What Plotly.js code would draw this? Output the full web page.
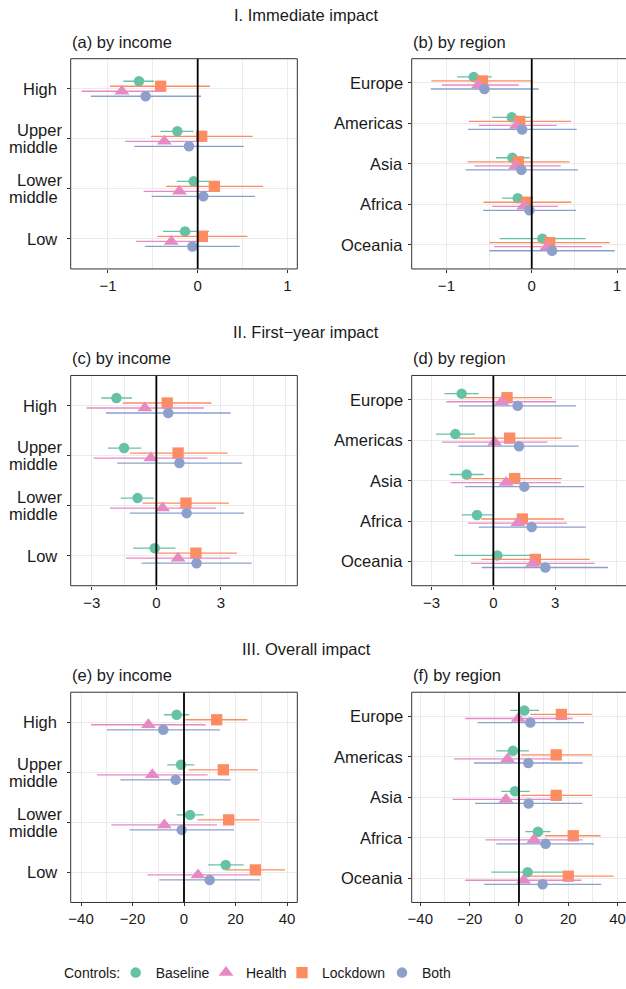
<!DOCTYPE html>
<html><head><meta charset="utf-8">
<script src="https://cdn.plot.ly/plotly-3.0.1.min.js"></script>
<style>html,body{margin:0;padding:0;background:#fff}#chart{width:626px;height:989px}</style>
</head><body><div id="chart"></div>
<script>
// ---------------- DATA ----------------
const seriesNames = ["Baseline", "Health", "Lockdown", "Both"];
const incomeCats = ["High", "Upper middle", "Lower middle", "Low"];
const regionCats = ["Europe", "Americas", "Asia", "Africa", "Oceania"];
const sectionTitles = ["I. Immediate impact", "II. First\u2212year impact", "III. Overall impact"];
const panelLabels = ["(a) by income", "(b) by region", "(c) by income", "(d) by region", "(e) by income", "(f) by region"];
const legendTitle = "Controls:";

// (a) Immediate impact by income
const a_Baseline_est = [-0.654, -0.227, -0.045, -0.141];
const a_Baseline_lo  = [-0.829, -0.416, -0.232, -0.387];
const a_Baseline_hi  = [-0.487, -0.047, 0.128, 0.126];
const a_Health_est   = [-0.844, -0.372, -0.204, -0.294];
const a_Health_lo    = [-1.294, -0.807, -0.602, -0.686];
const a_Health_hi    = [-0.398, 0.02, 0.13, 0.02];
const a_Lockdown_est = [-0.413, 0.045, 0.186, 0.052];
const a_Lockdown_lo  = [-0.978, -0.52, -0.353, -0.45];
const a_Lockdown_hi  = [0.138, 0.613, 0.729, 0.554];
const a_Both_est     = [-0.58, -0.097, 0.063, -0.059];
const a_Both_lo      = [-1.19, -0.706, -0.513, -0.587];
const a_Both_hi      = [0.037, 0.513, 0.639, 0.468];

// (b) Immediate impact by region
const b_Baseline_est = [-0.68, -0.234, -0.227, -0.164, 0.125];
const b_Baseline_lo  = [-0.875, -0.461, -0.418, -0.348, -0.375];
const b_Baseline_hi  = [-0.469, -0.016, -0.027, 0.016, 0.633];
const b_Health_est   = [-0.625, -0.18, -0.188, -0.094, 0.18];
const b_Health_lo    = [-1.055, -0.621, -0.672, -0.465, -0.438];
const b_Health_hi    = [-0.152, 0.293, 0.34, 0.309, 0.824];
const b_Lockdown_est = [-0.578, -0.141, -0.156, -0.059, 0.211];
const b_Lockdown_lo  = [-1.176, -0.738, -0.754, -0.566, -0.496];
const b_Lockdown_hi  = [0.016, 0.461, 0.445, 0.465, 0.914];
const b_Both_est     = [-0.555, -0.113, -0.121, -0.027, 0.238];
const b_Both_lo      = [-1.184, -0.746, -0.777, -0.57, -0.496];
const b_Both_hi      = [0.082, 0.527, 0.543, 0.52, 0.973];

// (c) First-year impact by income
const c_Baseline_est = [-1.853, -1.5, -0.873, -0.077];
const c_Baseline_lo  = [-2.557, -2.251, -1.654, -1.072];
const c_Baseline_hi  = [-1.133, -0.704, -0.123, 0.888];
const c_Health_est   = [-0.536, -0.26, 0.291, 1.01];
const c_Health_lo    = [-3.247, -2.91, -2.159, -1.409];
const c_Health_hi    = [2.205, 2.374, 2.772, 3.43];
const c_Lockdown_est = [0.505, 1.01, 1.378, 1.838];
const c_Lockdown_lo  = [-1.562, -1.225, -0.643, -0.05];
const c_Lockdown_hi  = [2.557, 3.308, 3.369, 3.737];
const c_Both_est     = [0.551, 1.072, 1.409, 1.868];
const c_Both_lo      = [-2.343, -1.822, -1.24, -0.689];
const c_Both_hi      = [3.446, 3.98, 4.073, 4.426];

// (d) First-year impact by region
const d_Baseline_est = [-1.54, -1.848, -1.297, -0.794, 0.194];
const d_Baseline_lo  = [-2.382, -2.788, -2.123, -1.54, -1.88];
const d_Baseline_hi  = [-0.713, -0.891, -0.47, -0.049, 2.253];
const d_Health_est   = [0.405, 0.065, 0.616, 1.183, 1.912];
const d_Health_lo    = [-2.285, -2.496, -2.075, -1.232, -1.086];
const d_Health_hi    = [3.047, 2.626, 3.29, 3.582, 4.927];
const d_Lockdown_est = [0.665, 0.794, 1.037, 1.41, 2.042];
const d_Lockdown_lo  = [-1.4, -1.7, -1.3, -0.58, -0.583];
const d_Lockdown_hi  = [2.853, 3.323, 3.323, 3.436, 4.684];
const d_Both_est     = [1.183, 1.248, 1.507, 1.864, 2.528];
const d_Both_lo      = [-1.669, -1.702, -1.378, -0.713, -0.567];
const d_Both_hi      = [4.019, 4.149, 4.425, 4.489, 5.575];

// (e) Overall impact by income
const e_Baseline_est = [-2.85, -1.17, 2.33, 16.2];
const e_Baseline_lo  = [-7.77, -6.47, -2.85, 9.45];
const e_Baseline_hi  = [2.07, 4.01, 7.64, 23.2];
const e_Health_est   = [-13.85, -12.3, -7.64, 5.44];
const e_Health_lo    = [-36.1, -33.8, -28.2, -14.2];
const e_Health_hi    = [8.41, 9.19, 12.8, 25.4];
const e_Lockdown_est = [12.69, 15.28, 17.35, 27.7];
const e_Lockdown_lo  = [0.52, 1.81, 5.31, 16.3];
const e_Lockdown_hi  = [24.6, 28.7, 29.3, 39.2];
const e_Both_est     = [-8.03, -3.24, -0.91, 9.97];
const e_Both_lo      = [-29.9, -24.7, -21.2, -9.58];
const e_Both_hi      = [14.0, 18.1, 19.4, 29.5];

// (f) Overall impact by region
const f_Baseline_est = [2.16, -2.43, -1.62, 7.7, 3.51];
const f_Baseline_lo  = [-3.51, -9.19, -7.16, 2.57, -11.2];
const f_Baseline_hi  = [8.11, 4.05, 4.32, 12.8, 17.8];
const f_Health_est   = [-0.27, -4.59, -5.27, 6.08, 1.89];
const f_Health_lo    = [-21.8, -26.4, -26.9, -13.6, -21.8];
const f_Health_hi    = [21.8, 13.2, 13.2, 25.8, 25.3];
const f_Lockdown_est = [17.2, 15.1, 15.1, 22.0, 20.0];
const f_Lockdown_lo  = [4.59, 0.8, 0.68, 10.5, 4.3];
const f_Lockdown_hi  = [29.5, 29.6, 29.7, 33.1, 38.4];
const f_Both_est     = [4.59, 3.78, 3.92, 10.8, 9.59];
const f_Both_lo      = [-16.8, -18.2, -17.8, -9.19, -14.1];
const f_Both_hi      = [26.4, 25.8, 25.7, 30.4, 33.4];

// x-axis ticks per row
const row1Ticks = [-1, 0, 1];
const row1Minor = [-0.5, 0.5];
const row2Ticks = [-3, 0, 3];
const row2Minor = [-1.5, 1.5, 4.5, 6];
const row3Ticks = [-40, -20, 0, 20, 40];
const row3Minor = [-30, -10, 10, 30];

// ---------------- STYLE ----------------
const W = 626, H = 989;
const FONT = '"Liberation Sans", Arial, Helvetica, sans-serif';
const TXT = '#1a1a1a';
const colors = {Baseline: '#66c2a5', Health: '#e78ac3', Lockdown: '#fc8d62', Both: '#8da0cb'};
const symbols = {Baseline: 'circle', Health: 'triangle-up', Lockdown: 'square', Both: 'circle'};
const msize = {Baseline: 10.5, Health: 13, Lockdown: 11.3, Both: 10.5};
const legW = {Baseline: 45.3, Health: 31, Lockdown: 55, Both: 29};
const dodge = {Baseline: -0.15, Lockdown: -0.05, Health: 0.05, Both: 0.15};
const drawOrder = ["Baseline", "Lockdown", "Health", "Both"];

const colPx = [[70.7, 297.3], [411.7, 626]];
const rowPx = [[59.3, 271.7], [379.3, 591.7], [699.3, 911.7]];
const titleY = [15, 335, 656];
const labelY = [42, 362, 682];
const legendY = 983;
const LINE_H = 16.8;

const panels = [
  {key: 'a', cats: incomeCats, pad: true,  range: [-1.415, 1.11], ticks: row1Ticks, minor: row1Minor, row: 0, col: 0},
  {key: 'b', cats: regionCats, pad: false, range: [-1.407, 1.105], ticks: row1Ticks, minor: row1Minor, row: 0, col: 1},
  {key: 'c', cats: incomeCats, pad: true,  range: [-3.98, 6.55], ticks: row2Ticks, minor: row2Minor, row: 1, col: 0},
  {key: 'd', cats: regionCats, pad: false, range: [-3.97, 6.45], ticks: row2Ticks, minor: row2Minor, row: 1, col: 1},
  {key: 'e', cats: incomeCats, pad: true,  range: [-44, 44], ticks: row3Ticks, minor: row3Minor, row: 2, col: 0},
  {key: 'f', cats: regionCats, pad: false, range: [-43.5, 43.4], ticks: row3Ticks, minor: row3Minor, row: 2, col: 1}
];
const dataMap = {
  a_Baseline_est, a_Baseline_lo, a_Baseline_hi, a_Health_est, a_Health_lo, a_Health_hi,
  a_Lockdown_est, a_Lockdown_lo, a_Lockdown_hi, a_Both_est, a_Both_lo, a_Both_hi,
  b_Baseline_est, b_Baseline_lo, b_Baseline_hi, b_Health_est, b_Health_lo, b_Health_hi,
  b_Lockdown_est, b_Lockdown_lo, b_Lockdown_hi, b_Both_est, b_Both_lo, b_Both_hi,
  c_Baseline_est, c_Baseline_lo, c_Baseline_hi, c_Health_est, c_Health_lo, c_Health_hi,
  c_Lockdown_est, c_Lockdown_lo, c_Lockdown_hi, c_Both_est, c_Both_lo, c_Both_hi,
  d_Baseline_est, d_Baseline_lo, d_Baseline_hi, d_Health_est, d_Health_lo, d_Health_hi,
  d_Lockdown_est, d_Lockdown_lo, d_Lockdown_hi, d_Both_est, d_Both_lo, d_Both_hi,
  e_Baseline_est, e_Baseline_lo, e_Baseline_hi, e_Health_est, e_Health_lo, e_Health_hi,
  e_Lockdown_est, e_Lockdown_lo, e_Lockdown_hi, e_Both_est, e_Both_lo, e_Both_hi,
  f_Baseline_est, f_Baseline_lo, f_Baseline_hi, f_Health_est, f_Health_lo, f_Health_hi,
  f_Lockdown_est, f_Lockdown_lo, f_Lockdown_hi, f_Both_est, f_Both_lo, f_Both_hi
};
const D = (p, s, k) => dataMap[p + '_' + s + '_' + k];
const fmtTick = v => (v < 0 ? '\u2212' + Math.abs(v) : String(v));

const traces = [];
const layout = {
  width: W, height: H, autosize: false,
  margin: {l: 0, r: 0, t: 0, b: 0, pad: 0},
  paper_bgcolor: '#ffffff', plot_bgcolor: '#ffffff',
  font: {family: FONT, color: TXT, size: 15},
  showlegend: true,
  legend: {
    orientation: 'h', x: 115.7 / W, xanchor: 'left', y: 1 - legendY / H, yanchor: 'middle',
    font: {family: FONT, size: 14, color: TXT},
    traceorder: 'normal', bgcolor: 'rgba(0,0,0,0)', borderwidth: 0
  },
  shapes: [], annotations: []
};

panels.forEach((p, k) => {
  const sfx = k === 0 ? '' : String(k + 1);
  const xa = 'xaxis' + sfx, ya = 'yaxis' + sfx;
  const n = p.cats.length;
  const [x0, x1] = colPx[p.col];
  const [yt, yb] = rowPx[p.row];
  drawOrder.forEach(s => {
    const est = D(p.key, s, 'est'), lo = D(p.key, s, 'lo'), hi = D(p.key, s, 'hi');
    traces.push({
      type: 'scatter', mode: 'markers', name: s,
      legendgroup: s, showlegend: k === 0, legendrank: seriesNames.indexOf(s) + 1,
      legendwidth: legW[s],
      x: est,
      y: p.cats.map((c, i) => i + 1 + dodge[s]),
      xaxis: 'x' + sfx, yaxis: 'y' + sfx,
      marker: {color: colors[s], symbol: symbols[s], size: msize[s], line: {width: 0}},
      error_x: {type: 'data', symmetric: false,
        array: est.map((v, i) => hi[i] - v), arrayminus: est.map((v, i) => v - lo[i]),
        color: colors[s], thickness: 1.3, width: 0},
      hoverinfo: 'skip', cliponaxis: false
    });
  });
  layout[xa] = {
    domain: [x0 / W, x1 / W], range: p.range, anchor: 'y' + sfx,
    tickmode: 'array', tickvals: p.ticks, ticktext: p.ticks.map(fmtTick),
    showgrid: true, gridcolor: '#EBEBEB', gridwidth: 1,
    minor: {tickmode: 'array', tickvals: p.minor, showgrid: true, gridcolor: '#EBEBEB', gridwidth: 1, ticks: ''},
    zeroline: false, showline: false,
    ticks: 'outside', ticklen: 3, tickwidth: 1, tickcolor: '#333333',
    tickfont: {family: FONT, size: 15, color: TXT}, fixedrange: true
  };
  layout[ya] = {
    domain: [1 - yb / H, 1 - yt / H], range: [n + 0.6, 0.4], anchor: 'x' + sfx,
    tickmode: 'array', tickvals: p.cats.map((c, i) => i + 1),
    showticklabels: false,
    showgrid: true, gridcolor: '#EBEBEB', gridwidth: 1,
    zeroline: false, showline: false,
    ticks: 'outside', ticklen: 3, tickwidth: 1, tickcolor: '#333333', fixedrange: true
  };
  // category labels (multi-line, tight line spacing)
  p.cats.forEach((c, i) => {
    const lines = c.split(' ');
    const m = lines.length;
    lines.forEach((ln, j) => {
      const txt = (p.pad && j === m - 1) ? ln + '\u00a0' : ln;
      layout.annotations.push({
        text: txt, xref: 'paper', yref: 'y' + sfx,
        x: (x0 - 7.7) / W, y: i + 1, yshift: ((m - 1) / 2 - j) * LINE_H,
        xanchor: 'right', yanchor: 'middle', showarrow: false, borderpad: 0,
        font: {family: FONT, size: 16.5, color: TXT}
      });
    });
  });
  // zero reference line
  layout.shapes.push({type: 'line', xref: 'x' + sfx, yref: 'y' + sfx + ' domain',
    x0: 0, x1: 0, y0: 0, y1: 1, line: {color: '#000000', width: 1.8}, layer: 'above'});
  // panel border
  layout.shapes.push({type: 'rect', xref: 'x' + sfx + ' domain', yref: 'y' + sfx + ' domain',
    x0: 0, x1: p.col === 1 ? 1.02 : 1, y0: 0, y1: 1,
    line: {color: '#333333', width: 1}, fillcolor: 'rgba(0,0,0,0)', layer: 'above'});
  // panel label
  layout.annotations.push({text: panelLabels[k], xref: 'paper', yref: 'paper',
    x: x0 / W, y: 1 - labelY[p.row] / H, xanchor: 'left', yanchor: 'middle',
    showarrow: false, borderpad: 0, font: {family: FONT, size: 16.5, color: TXT}});
});

sectionTitles.forEach((t, r) => {
  layout.annotations.push({text: t, xref: 'paper', yref: 'paper',
    x: 306 / W, y: 1 - titleY[r] / H, xanchor: 'center', yanchor: 'middle',
    showarrow: false, font: {family: FONT, size: 16.5, color: TXT}});
});

// legend title
layout.annotations.push({text: legendTitle, xref: 'paper', yref: 'paper',
  x: 62.7 / W, y: 1 - legendY / H, xanchor: 'left', yanchor: 'middle',
  showarrow: false, borderpad: 0, font: {family: FONT, size: 14, color: TXT}});

Plotly.newPlot('chart', traces, layout, {staticPlot: true, displayModeBar: false});
</script>
</body></html>
